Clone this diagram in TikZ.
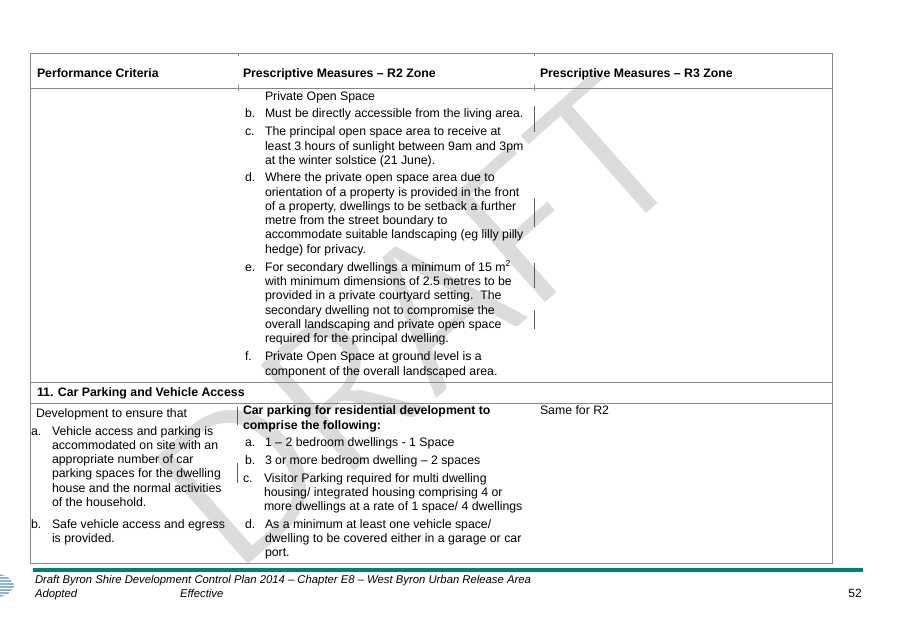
\documentclass[tikz,border=0pt]{standalone}
\usepackage{fontspec}
\setmainfont{Liberation Sans}
\newfontfamily\wmfont[FakeBold=2.2]{Carlito}
\newcommand{\bodyfont}{\fontsize{12.3}{14.3}\selectfont}
\newcommand{\footfont}{\fontsize{11.3}{14}\selectfont\itshape}
\newcommand{\lns}[1]{\begin{tabular}[t]{@{}l@{}}#1\end{tabular}}
\definecolor{rulec}{RGB}{135,135,135}
\definecolor{tealc}{RGB}{0,128,118}
\definecolor{wmc}{RGB}{220,220,220}
\definecolor{barc}{RGB}{90,90,90}
\definecolor{logoc}{RGB}{140,180,215}
\begin{document}
\begin{tikzpicture}[x=1pt,y=-1pt,
  txt/.style={anchor=base west, inner sep=0pt, outer sep=0pt, font=\bodyfont},
  hdr/.style={anchor=base west, inner sep=0pt, outer sep=0pt, font=\bodyfont\bfseries},
  foot/.style={anchor=base west, inner sep=0pt, outer sep=0pt, font=\footfont},
  tablerule/.style={draw=rulec, line width=1pt},
  chbar/.style={draw=barc, line width=0.9pt},
]
\useasboundingbox (0,0) rectangle (897,619);
\fill[white] (0,0) rectangle (897,619);
% watermark
\node[rotate=41.4, anchor=base west, inner sep=0pt, text=wmc, font=\wmfont\fontsize{228}{228}\selectfont] (wm) at (236,578) {\special{pdf:bc [0.863] [1]}DRAFT\special{pdf:ec}};
% table
\draw[tablerule] (30,53) rectangle (832,563);
\draw[tablerule] (30,88) -- (832,88);
\draw[tablerule] (30,382) -- (832,382);
\draw[tablerule] (30,403) -- (832,403);
\foreach \cx in {238,534} {
  \draw[tablerule] (\cx,53) -- (\cx,56);
  \draw[tablerule] (\cx,85) -- (\cx,91);
}
% change bars
\draw[chbar] (534,106) -- (534,132);
\draw[chbar] (534,198) -- (534,227);
\draw[chbar] (534,263) -- (534,288);
\draw[chbar] (534,310) -- (534,329);
\draw[chbar] (237,407) -- (237,425);
\draw[chbar] (237,463) -- (237,483);
% header
\node[hdr] (h1) at (37,77.6) {Performance Criteria};
\node[hdr] (h2) at (243,77.6) {Prescriptive Measures – R2 Zone};
\node[hdr] (h3) at (540,77.6) {Prescriptive Measures – R3 Zone};
% first row
\node[txt] (pos) at (265,100) {Private Open Space};
\node[txt] (lb) at (245,117.3) {b.};
\node[txt] (tb) at (265,117.3) {Must be directly accessible from the living area.};
\node[txt] (lc) at (245,135.7) {c.};
\node[txt] (tc) at (265,135.7) {\lns{The principal open space area to receive at\\least 3 hours of sunlight between 9am and 3pm\\at the winter solstice (21 June).}};
\node[txt] (ld) at (245,181.7) {d.};
\node[txt] (td) at (265,181.7) {\lns{Where the private open space area due to\\orientation of a property is provided in the front\\of a property, dwellings to be setback a further\\metre from the street boundary to\\accommodate suitable landscaping (eg lilly pilly\\hedge) for privacy.}};
\node[txt] (le) at (245,271.3) {e.};
\node[txt] (te) at (265,271.3) {\lns{For secondary dwellings a minimum of 15 m\textsuperscript{2}\\with minimum dimensions of 2.5 metres to be\\provided in a private courtyard setting.\ \ The\\secondary dwelling not to compromise the\\overall landscaping and private open space\\required for the principal dwelling.}};
\node[txt] (lf) at (245,360.7) {f.};
\node[txt] (tf) at (265,360.7) {\lns{Private Open Space at ground level is a\\component of the overall landscaped area.}};
% section row
\node[hdr] (sec) at (37,396) {11. Car Parking and Vehicle Access};
% car parking row, left
\node[txt] (dev) at (36,417) {Development to ensure that};
\node[txt] (pla) at (31,435) {a.};
\node[txt] (pta) at (52,435) {\lns{Vehicle access and parking is\\accommodated on site with an\\appropriate number of car\\parking spaces for the dwelling\\house and the normal activities\\of the household.}};
\node[txt] (plb) at (31,528) {b.};
\node[txt] (ptb) at (52,528) {\lns{Safe vehicle access and egress\\is provided.}};
% car parking row, middle
\node[hdr] (cp) at (243,414.7) {\lns{Car parking for residential development to\\comprise the following:}};
\node[txt] (cla) at (245,446.7) {a.};
\node[txt] (cta) at (265,446.7) {1 – 2 bedroom dwellings - 1 Space};
\node[txt] (clb) at (245,464) {b.};
\node[txt] (ctb) at (265,464) {3 or more bedroom dwelling – 2 spaces};
\node[txt] (clc) at (243,482.3) {c.};
\node[txt] (ctc) at (264,482.3) {\lns{Visitor Parking required for multi dwelling\\housing/ integrated housing comprising 4 or\\more dwellings at a rate of 1 space/ 4 dwellings}};
\node[txt] (cld) at (245,528.3) {d.};
\node[txt] (ctd) at (265,528.3) {\lns{As a minimum at least one vehicle space/\\dwelling to be covered either in a garage or car\\port.}};
% car parking row, right
\node[txt] (same) at (540,414.7) {Same for R2};
% footer
\draw[tealc, line width=3.5pt] (33,570) -- (863,570);
\node[foot] (f1) at (35,583) {Draft Byron Shire Development Control Plan 2014 – Chapter E8 – West Byron Urban Release Area};
\node[foot] (f2) at (35,597) {Adopted};
\node[foot] (f3) at (180,597) {Effective};
\node[anchor=base east, inner sep=0pt, font=\fontsize{12}{14}\selectfont] (pg) at (862,597) {52};
% logo fragment
\fill[logoc] (0,574) -- (8,577) -- (15,585.5) -- (8,594) -- (0,597) -- cycle;
\foreach \yy in {576.5,579.5,...,596} {
  \draw[white, line width=0.7pt] (0,\yy) -- (15,\yy);
}
\end{tikzpicture}
\end{document}
